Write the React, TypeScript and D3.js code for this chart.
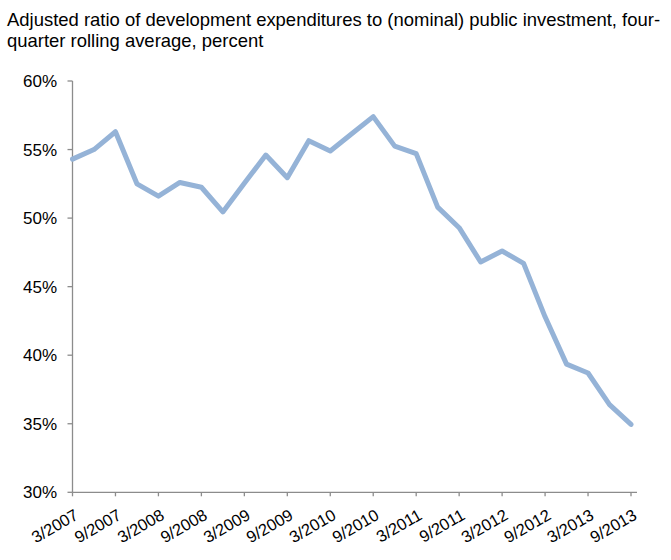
import React from "react";
import * as d3 from "d3";

const quarters: string[] = [
  "3/2007","6/2007","9/2007","12/2007",
  "3/2008","6/2008","9/2008","12/2008",
  "3/2009","6/2009","9/2009","12/2009",
  "3/2010","6/2010","9/2010","12/2010",
  "3/2011","6/2011","9/2011","12/2011",
  "3/2012","6/2012","9/2012","12/2012",
  "3/2013","6/2013","9/2013",
];
const values: number[] = [
  54.3, 55.0, 56.3, 52.5,
  51.6, 52.6, 52.25, 50.45,
  52.55, 54.6, 52.95, 55.65,
  54.9, 56.15, 57.4, 55.25,
  54.7, 50.8, 49.3, 46.8,
  47.6, 46.7, 42.8, 39.35,
  38.7, 36.4, 34.95,
];
const yTicks: number[] = [30, 35, 40, 45, 50, 55, 60];
const xTickLabels: string[] = quarters.filter((_, i) => i % 2 === 0);
const titleLines: string[] = [
  "Adjusted ratio of development expenditures to (nominal) public investment, four-",
  "quarter rolling average, percent",
];

export default function App() {
  const W = 671, H = 560;
  const x = d3.scalePoint<string>().domain(quarters).range([72.5, 631]);
  const y = d3.scaleLinear().domain([30, 60]).range([492.3, 81]);
  const line = d3.line<number>()
    .x((_, i) => x(quarters[i]) as number)
    .y((d) => y(d));
  const axisColor = "#8c8c8c";
  const font = "'Liberation Sans', Arial, sans-serif";
  return (
    <svg width={W} height={H} style={{ position: "absolute", left: 0, top: 0, background: "#fff" }}
      fontFamily={font}>
      {titleLines.map((t, i) => (
        <text key={i} transform={`translate(7,${26 + i * 20.7}) scale(1.055,1)`} fontSize={17.5} fill="#000">{t}</text>
      ))}
      {/* y axis */}
      <line x1={72.5} x2={72.5} y1={y(60)} y2={y(30)} stroke={axisColor} strokeWidth={1.3} />
      {yTicks.map((t) => (
        <g key={t}>
          <line x1={67.5} x2={72.5} y1={y(t)} y2={y(t)} stroke={axisColor} strokeWidth={1.3} />
          <text x={57} y={y(t) + 6} textAnchor="end" fontSize={17} fill="#000">{t}%</text>
        </g>
      ))}
      {/* x axis */}
      <line x1={72.5} x2={637} y1={y(30)} y2={y(30)} stroke={axisColor} strokeWidth={1.3} />
      {xTickLabels.map((q) => {
        const tx = x(q) as number;
        const ty = y(30);
        return (
          <g key={q}>
            <line x1={tx} x2={tx} y1={ty} y2={ty + 4} stroke={axisColor} strokeWidth={1.3} />
            <text transform={`translate(${tx + 7},${ty + 26}) rotate(-30)`} textAnchor="end"
              fontSize={16.5} fill="#000">{q}</text>
          </g>
        );
      })}
      <path d={line(values) || ""} fill="none" stroke="#95b3d7" strokeWidth={5}
        strokeLinejoin="round" strokeLinecap="round" />
    </svg>
  );
}
